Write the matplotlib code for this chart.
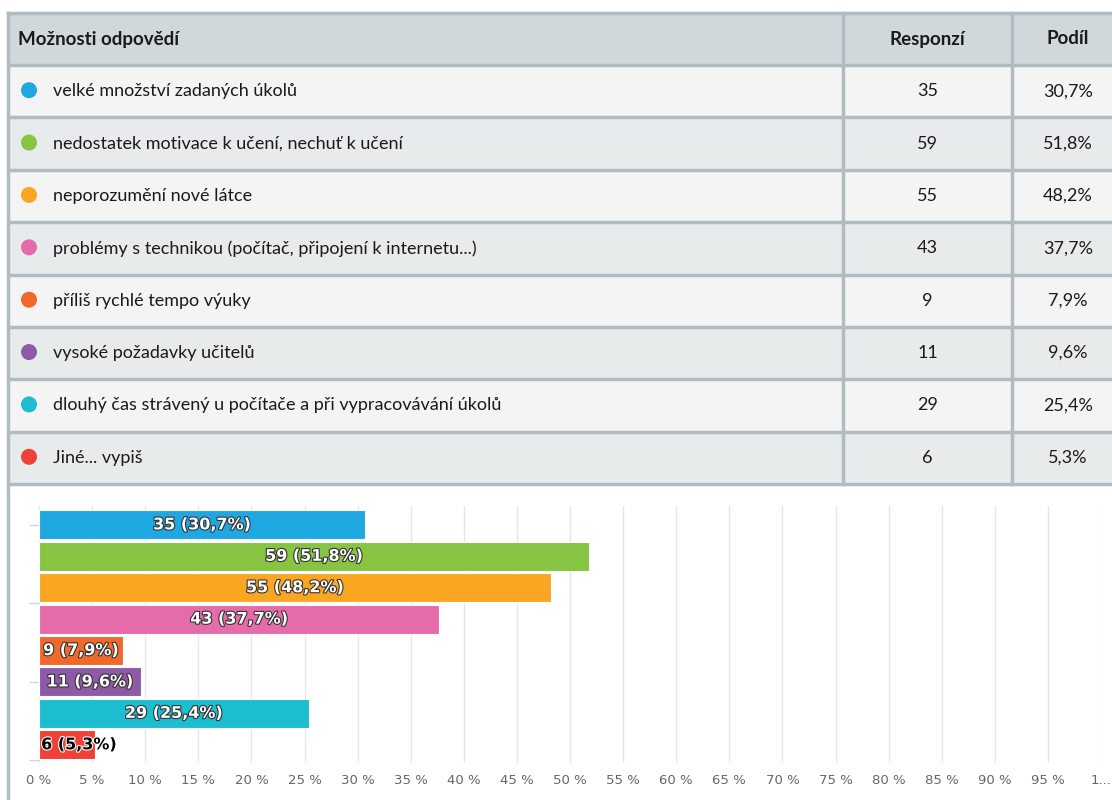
import matplotlib
matplotlib.use("Agg")
import matplotlib.pyplot as plt
from matplotlib.patches import Rectangle, Circle
import matplotlib.patheffects as pe

# answer options, counts and shares as shown in the survey
options = [
    "velké množství zadaných úkolů",
    "nedostatek motivace k učení, nechuť k učení",
    "neporozumění nové látce",
    "problémy s technikou (počítač, připojení k internetu...)",
    "příliš rychlé tempo výuky",
    "vysoké požadavky učitelů",
    "dlouhý čas strávený u počítače a při vypracovávání úkolů",
    "Jiné... vypiš",
]
responses = [35, 59, 55, 43, 9, 11, 29, 6]
shares = [30.7, 51.8, 48.2, 37.7, 7.9, 9.6, 25.4, 5.3]
colors = ["#1ea7e1", "#86c441", "#fba623", "#e56ca8",
          "#f0682a", "#8e59a6", "#1bbdcf", "#ee4238"]
tick_vals = list(range(0, 101, 5))
tick_labels = ["%d %%" % t for t in tick_vals[:-1]] + ["1..."]

W, H = 1112, 800
fig = plt.figure(figsize=(W / 100, H / 100), dpi=100)
fig.patch.set_facecolor("white")

font_tab = ["Lato", "DejaVu Sans"]

# ---- table, drawn in pixel coordinates ----
tab = fig.add_axes([0, 0, 1, 1])
tab.set_xlim(0, W)
tab.set_ylim(H, 0)
tab.axis("off")

border = "#b0bcc2"
x0, x1, x2, x3 = 8, 843, 1012, 1126
head_top, head_bot = 13, 65
row_h = (484 - head_bot) / len(options)

tab.add_patch(Rectangle((x0, head_top), x3 - x0, head_bot - head_top,
                        facecolor="#d1d8dc", edgecolor="none"))
for i in range(len(options)):
    top = head_bot + i * row_h
    fc = "#f4f4f4" if i % 2 == 0 else "#e8ebec"
    tab.add_patch(Rectangle((x0, top), x3 - x0, row_h, facecolor=fc, edgecolor="none"))

# grid lines of the table
for i in range(len(options) + 1):
    y = head_bot + i * row_h
    tab.plot([x0, x3], [y, y], color=border, lw=2.5, solid_capstyle="butt")
tab.plot([x0, x3], [head_top, head_top], color=border, lw=2.5)
for x in (x1, x2):
    tab.plot([x, x], [head_top, 484], color=border, lw=2.5)
tab.plot([x0, x0], [head_top, H], color=border, lw=2.5)

hy = (head_top + head_bot) / 2
tab.text(18, hy, "Možnosti odpovědí", family=font_tab, fontsize=13.5, weight="bold",
         color="#1a1a1a", va="center", ha="left")
tab.text((x1 + x2) / 2, hy, "Responzí", family=font_tab, fontsize=13.5, weight="bold",
         color="#1a1a1a", va="center", ha="center")
tab.text(1068, hy, "Podíl", family=font_tab, fontsize=13.5, weight="bold",
         color="#1a1a1a", va="center", ha="center")

for i, (opt, n, s) in enumerate(zip(options, responses, shares)):
    cy = head_bot + (i + 0.5) * row_h
    tab.add_patch(Circle((29, cy - 1), 8, facecolor=colors[i], edgecolor="none"))
    tab.text(53, cy, opt, family=font_tab, fontsize=13, color="#1a1a1a",
             va="center", ha="left")
    tab.text((x1 + x2) / 2, cy, str(n), family=font_tab, fontsize=13,
             color="#1a1a1a", va="center", ha="center")
    tab.text(1068, cy, ("%.1f%%" % s).replace(".", ","), family=font_tab,
             fontsize=13, color="#1a1a1a", va="center", ha="center")

# ---- bar chart ----
ax = fig.add_axes([39 / W, (H - 763) / H, (1101 - 39) / W, (763 - 506) / H])
ypos = list(range(len(options)))
ax.barh(ypos, shares, height=0.92, color=colors, edgecolor="white", linewidth=0.8, zorder=3)
ax.set_xlim(0, 100)
ax.set_ylim(7.58, -0.6)
ax.set_xticks(tick_vals)
ax.set_xticklabels(tick_labels)
ax.tick_params(axis="x", length=0, colors="#666666", labelsize=9.5, pad=8)
ax.set_yticks([0, 2.5, 5, 7.5])
ax.set_yticklabels([])
ax.tick_params(axis="y", length=7, color="#ccd6eb", width=1)
ax.grid(axis="x", color="#e6e6e6", lw=1, zorder=0)
for sp in ax.spines.values():
    sp.set_visible(False)

for i, (n, s) in enumerate(zip(responses, shares)):
    lbl = "%d (%s%%)" % (n, ("%.1f" % s).replace(".", ","))
    if s < 6:
        ax.text(0.2, i, lbl, ha="left", va="center", fontsize=11.5, weight="bold",
                color="black", zorder=4,
                path_effects=[pe.withStroke(linewidth=1.6, foreground="white")])
    else:
        ax.text(s / 2, i, lbl, ha="center", va="center", fontsize=11.5, weight="bold",
                color="white", zorder=4,
                path_effects=[pe.withStroke(linewidth=1.6, foreground="#333333")])

fig.savefig("out.png", dpi=100)
